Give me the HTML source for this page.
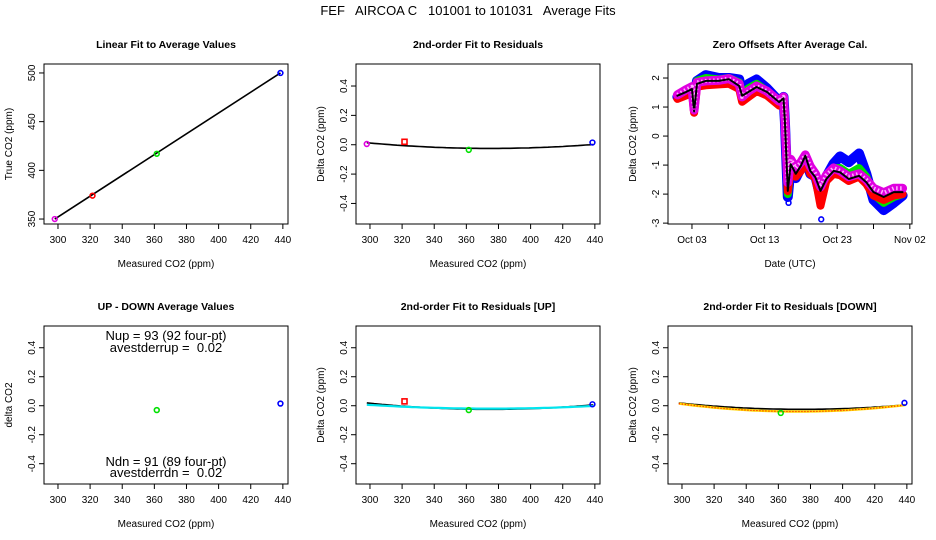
<!DOCTYPE html>
<html><head><meta charset="utf-8"><style>
body{margin:0;background:#fff}
svg{display:block;font-family:"Liberation Sans",Arial,sans-serif}
text{white-space:pre}
</style></head><body>
<svg id="c" width="936" height="540" viewBox="0 0 936 540">
<text x="468" y="15" text-anchor="middle" font-size="13" xml:space="preserve">FEF   AIRCOA C   101001 to 101031   Average Fits</text>
</svg>
<script>
// ---- data ----
const stdMeasured = [298, 321.5, 361.5, 438.5];
const stdTrue = [350, 374, 417, 500];
const stdColors = ['#e000e0', '#ff0000', '#00e000', '#0000ff'];
const residAll = [0.005, 0.02, -0.035, 0.015];
const upDownMeasured = [361.5, 438.5];
const upDownVals = [-0.03, 0.015];
const residUp = [0.005, 0.03, -0.03, 0.01];
const residDown = [0.005, 0.02, -0.05, 0.02];
const fitAll = [375, -0.025, 6.5e-6];
const fitUpBlack = [375, -0.025, 7.5e-6];
const fitUpCyan = [375, -0.02, 4.5e-6];
const fitDownBlack = [375, -0.025, 7.5e-6];
const fitDownOrange = [372, -0.04, 10e-6];
const xTicks = [300, 320, 340, 360, 380, 400, 420, 440];
const yTicksTrue = [350, 400, 450, 500];
const yTicksDelta = [-0.4, -0.2, 0, 0.2, 0.4];
const yTickDeltaLabels = ['-0.4', '-0.2', '0.0', '0.2', '0.4'];
const dateTicks = [2, 12, 22, 32];
const dateTickLabels = ['Oct 03', 'Oct 13', 'Oct 23', 'Nov 02'];
const dateMinorTicks = [7, 17, 27];
const zeroTicks = [-3, -2, -1, 0, 1, 2];
const days = [0,1.2,2.0,2.3,2.7,3.9,5.7,7.1,8.5,8.9,9.8,10.9,12.3,14,14.6,14.8,15.2,15.6,16.3,17,17.6,18.3,19,19.7,20.5,21.5,22.4,23.6,25,26,27,28.4,29.8,31];
const zeroBlack = [1.39,1.52,1.62,0.85,1.8,1.9,1.9,1.96,1.73,1.39,1.52,1.69,1.52,1.17,1.3,0.5,-1.89,-0.97,-1.3,-1.02,-0.68,-1.2,-1.42,-1.89,-1.48,-1.2,-1.25,-1.48,-1.37,-1.59,-1.93,-2.1,-1.93,-1.93];
const zeroMagenta = [1.42,1.6,1.7,0.9,1.85,1.9,1.92,1.98,1.8,1.35,1.55,1.72,1.55,1.2,1.35,0.55,-1.6,-0.8,-1.1,-0.9,-0.65,-1.05,-1.3,-1.75,-1.35,-1.1,-1.2,-1.4,-1.3,-1.5,-1.8,-1.95,-1.8,-1.8];
const zeroRed = [1.28,1.4,1.5,0.8,1.7,1.75,1.78,1.8,1.62,1.18,1.35,1.55,1.4,1.05,1.2,0.5,-1.9,-1.1,-1.4,-1.2,-0.8,-1.3,-1.45,-2.4,-1.55,-1.3,-1.35,-1.55,-1.4,-1.65,-2.05,-2.2,-2.05,-2.0];
const zeroGreen = [1.42,1.55,1.65,1.2,1.9,2.0,1.95,2.0,1.85,1.45,1.65,1.8,1.55,1.15,1.3,0.55,-2.0,-1.0,-1.35,-1.05,-0.7,-1.25,-1.4,-1.95,-1.45,-1.1,-1.1,-1.3,-1.1,-1.4,-2.0,-2.3,-2.1,-2.0];
const zeroBlue = [1.35,1.5,1.6,1.3,1.9,2.1,2.0,2.0,1.95,1.55,1.8,1.95,1.65,1.2,1.35,0.5,-2.1,-1.05,-1.45,-1.1,-0.75,-1.3,-1.4,-2.1,-1.4,-0.95,-0.7,-0.9,-0.6,-1.3,-2.2,-2.55,-2.3,-2.05];
const outlierDays = [15.3, 19.8, 2.3];
const outlierVals = [-2.3, -2.87, 0.85];
const outlierColors = ['#0000ff', '#0000ff', '#e000e0'];

// ---- helpers ----
const svg = document.getElementById('c');
const NS = 'http://www.w3.org/2000/svg';
function el(tag, attrs, parent) {
  const e = document.createElementNS(NS, tag);
  for (const k in attrs) e.setAttribute(k, attrs[k]);
  (parent || svg).appendChild(e);
  return e;
}
function panel(col, row, xlim, ylim) {
  const L = 44 + col * 312, R = L + 244;
  const T = row ? 326 : 64, B = row ? 484 : 224;
  return { L, R, T, B,
    x: v => L + (v - xlim[0]) / (xlim[1] - xlim[0]) * (R - L),
    y: v => B - (v - ylim[0]) / (ylim[1] - ylim[0]) * (B - T) };
}
function frame(p, name, title, xt, yt, xticks, xlabels, yticks, ylabels, minor) {
  const g = el('g', {});
  
  
  const box = el('rect', {x: p.L, y: p.T, width: p.R - p.L, height: p.B - p.T, fill: 'none', stroke: '#000', 'stroke-width': 1}, g);
  
  
  const tt = el('text', {x: (p.L + p.R) / 2, y: p.T - 16, 'text-anchor': 'middle', 'font-size': 10.5, 'font-weight': 'bold'}, g);
  tt.textContent = title;
  
  
  const xa = el('text', {x: (p.L + p.R) / 2, y: p.B + 43, 'text-anchor': 'middle', 'font-size': 10}, g);
  xa.textContent = xt;
  
  
  const ya = el('text', {x: 0, y: 0, 'text-anchor': 'middle', 'font-size': 10, transform: `translate(${p.L - 32},${(p.T + p.B) / 2}) rotate(-90)`}, g);
  ya.textContent = yt;
  
  
  xticks.forEach((v, i) => {
    const X = p.x(v);
    el('line', {x1: X, x2: X, y1: p.B, y2: p.B + 5, stroke: '#000'}, g);
    const t = el('text', {x: X, y: p.B + 19, 'text-anchor': 'middle', 'font-size': 10}, g);
    t.textContent = xlabels[i];
    
    
  });
  (minor || []).forEach(v => { const X = p.x(v); el('line', {x1: X, x2: X, y1: p.B, y2: p.B + 5, stroke: '#000'}, g); });
  yticks.forEach((v, i) => {
    const Y = p.y(v);
    el('line', {x1: p.L - 5, x2: p.L, y1: Y, y2: Y, stroke: '#000'}, g);
    const t = el('text', {x: 0, y: 0, 'text-anchor': 'middle', 'font-size': 10, transform: `translate(${p.L - 9},${Y}) rotate(-90)`}, g);
    t.textContent = ylabels[i];
    
    
  });
  return g;
}
function pt(p, xv, yv, color, g, square) {
  let m;
  if (square) {
    m = el('rect', {x: p.x(xv) - 2.5, y: p.y(yv) - 2.5, width: 5, height: 5, fill: '#fff', stroke: color, 'stroke-width': 1.6}, g);
  } else {
    m = el('circle', {cx: p.x(xv), cy: p.y(yv), r: 2.4, fill: 'none', stroke: color, 'stroke-width': 1.6}, g);
  }
  
  
}
function quad(p, f, x0, x1, style, g, name) {
  let d = '';
  for (let i = 0; i <= 60; i++) {
    const xv = x0 + (x1 - x0) * i / 60, yv = f[1] + f[2] * (xv - f[0]) * (xv - f[0]);
    d += (i ? 'L' : 'M') + p.x(xv).toFixed(1) + ',' + p.y(yv).toFixed(1);
  }
  const path = el('path', Object.assign({d, fill: 'none'}, style), g);
  
  
}
const xl = [291.3, 443.2], dl = [-0.54, 0.55];
const xLabels = xTicks.map(String);

// ---- panel 1 ----
const p1 = panel(0, 0, xl, [344.9, 509.2]);
const g1 = frame(p1, 'linear-fit-panel', 'Linear Fit to Average Values', 'Measured CO2 (ppm)', 'True CO2 (ppm)', xTicks, xLabels, yTicksTrue, yTicksTrue.map(String));
const slope = (stdTrue[3] - stdTrue[0]) / (stdMeasured[3] - stdMeasured[0]);
const fl = el('line', {x1: p1.x(stdMeasured[0]), y1: p1.y(stdTrue[0]), x2: p1.x(stdMeasured[3]), y2: p1.y(stdTrue[0] + slope * (stdMeasured[3] - stdMeasured[0])), stroke: '#000', 'stroke-width': 1.6}, g1);


stdMeasured.forEach((m, i) => pt(p1, m, stdTrue[i], stdColors[i], g1));

// ---- panel 2 ----
const p2 = panel(1, 0, xl, dl);
const g2 = frame(p2, 'residual-fit-panel', '2nd-order Fit to Residuals', 'Measured CO2 (ppm)', 'Delta CO2 (ppm)', xTicks, xLabels, yTicksDelta, yTickDeltaLabels);
quad(p2, fitAll, 298, 439, {stroke: '#000', 'stroke-width': 1.6}, g2, 'quadratic-fit-curve');
stdMeasured.forEach((m, i) => pt(p2, m, residAll[i], stdColors[i], g2, i === 1));

// ---- panel 3 ----
const p3 = panel(2, 0, [-1.3, 32.3], [-3.03, 2.483]);
const g3 = frame(p3, 'zero-offsets-panel', 'Zero Offsets After Average Cal.', 'Date (UTC)', 'Delta CO2 (ppm)', dateTicks, dateTickLabels, zeroTicks, zeroTicks.map(String), dateMinorTicks);
function series(vals, color, w, name, dash) {
  const d = days.map((t, i) => (i ? 'L' : 'M') + p3.x(t).toFixed(1) + ',' + p3.y(vals[i]).toFixed(1)).join('');
  const attrs = {d, fill: 'none', stroke: color, 'stroke-width': w, 'stroke-linejoin': 'round', 'stroke-linecap': 'round'};
  if (dash) { attrs['stroke-dasharray'] = dash; attrs['stroke-linecap'] = 'butt'; }
  const s = el('path', attrs, g3);
  
  
}
series(zeroBlue, '#0000ff', 10, 'series-blue');
series(zeroGreen, '#00e000', 8, 'series-green');
series(zeroRed, '#ff0000', 8, 'series-red');
series(zeroMagenta, '#e000e0', 9, 'series-magenta');
series(zeroMagenta, '#ffb0ff', 4, 'series-magenta-dots', '1.5 2.5');
series(zeroBlack, '#000000', 2, 'series-mean');
outlierDays.forEach((t, i) => pt(p3, t, outlierVals[i], outlierColors[i], g3));

// ---- panel 4 ----
const p4 = panel(0, 1, xl, dl);
const g4 = frame(p4, 'up-down-panel', 'UP - DOWN Average Values', 'Measured CO2 (ppm)', 'delta CO2', xTicks, xLabels, yTicksDelta, yTickDeltaLabels);
upDownMeasured.forEach((m, i) => pt(p4, m, upDownVals[i], i ? '#0000ff' : '#00e000', g4));
[['Nup = 93 (92 four-pt)', 340], ['avestderrup =  0.02', 352], ['Ndn = 91 (89 four-pt)', 466], ['avestderrdn =  0.02', 477]].forEach(a => {
  const t = el('text', {x: 166, y: a[1], 'text-anchor': 'middle', 'font-size': 13}, g4);
  t.textContent = a[0];
  
  
});

// ---- panel 5 ----
const p5 = panel(1, 1, xl, dl);
const g5 = frame(p5, 'residual-up-panel', '2nd-order Fit to Residuals [UP]', 'Measured CO2 (ppm)', 'Delta CO2 (ppm)', xTicks, xLabels, yTicksDelta, yTickDeltaLabels);
quad(p5, fitUpBlack, 298, 439, {stroke: '#000', 'stroke-width': 1.6}, g5, 'fit-curve-black');
quad(p5, fitUpCyan, 298, 439, {stroke: '#00e5ee', 'stroke-width': 2.2}, g5, 'fit-curve-cyan');
stdMeasured.forEach((m, i) => { if (i > 0) pt(p5, m, residUp[i], stdColors[i], g5, i === 1); });

// ---- panel 6 ----
const p6 = panel(2, 1, xl, dl);
const g6 = frame(p6, 'residual-down-panel', '2nd-order Fit to Residuals [DOWN]', 'Measured CO2 (ppm)', 'Delta CO2 (ppm)', xTicks, xLabels, yTicksDelta, yTickDeltaLabels);
quad(p6, fitDownBlack, 298, 439, {stroke: '#000', 'stroke-width': 1.6}, g6, 'fit-curve-black');
quad(p6, fitDownOrange, 298, 439, {stroke: '#ffd700', 'stroke-width': 2.4}, g6, 'fit-curve-yellow');
quad(p6, fitDownOrange, 298, 439, {stroke: '#ff0000', 'stroke-width': 1.2, 'stroke-dasharray': '1 2'}, g6, 'fit-curve-red-dots');
stdMeasured.forEach((m, i) => { if (i > 1) pt(p6, m, residDown[i], stdColors[i], g6); });
</script>
</body></html>
